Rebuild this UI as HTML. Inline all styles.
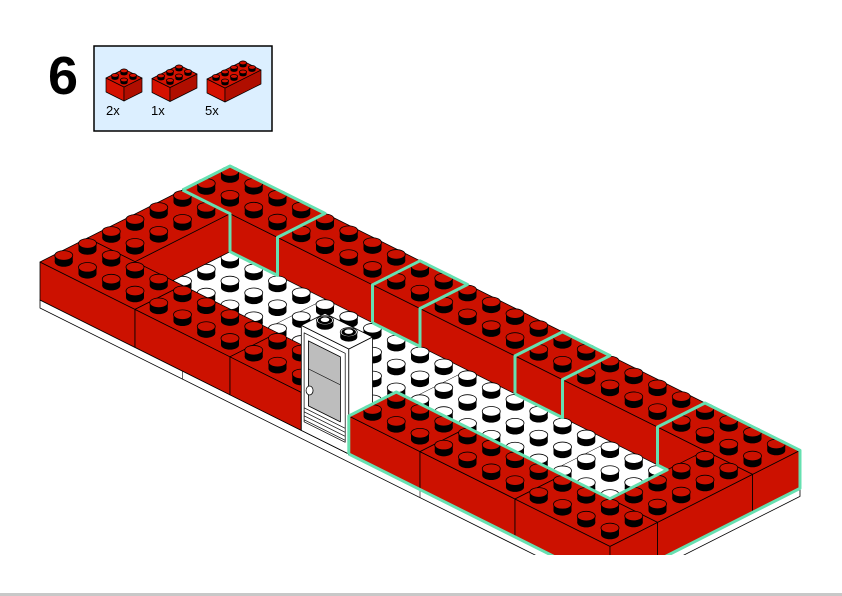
<!DOCTYPE html>
<html><head><meta charset="utf-8">
<style>
html,body{margin:0;padding:0;background:#fff;}
body{width:842px;height:596px;overflow:hidden;position:relative;}
svg{position:absolute;left:0;top:0;}
</style></head>
<body>
<svg id="s" width="842" height="596" viewBox="0 0 842 596" xmlns="http://www.w3.org/2000/svg">
<defs><clipPath id="cl"><rect x="0" y="0" width="842" height="555"/></clipPath></defs>
<rect x="0" y="593" width="842" height="3" fill="#c8c8c8"/>
<text x="48" y="94" font-family="Liberation Sans, sans-serif" font-weight="bold" font-size="54">6</text>
<rect x="94" y="46" width="178" height="85" fill="#dcefff" stroke="#000" stroke-width="1.5"/>
<g font-family="Liberation Sans, sans-serif" font-size="13" fill="#000">
<text x="106" y="115">2x</text><text x="151" y="115">1x</text><text x="205" y="115">5x</text>
</g>
<g id="icons"></g>
<g id="scene" clip-path="url(#cl)"></g>
</svg>
<script>
var NS="http://www.w3.org/2000/svg";
var RED="#cc1100",BK="#000";
function P(i,j,h){return [230+23.75*(i-j),166+11.85*i+12*j+(h||0)];}
function poly(g,pts,fill,stroke,sw){var e=document.createElementNS(NS,"polygon");e.setAttribute("points",pts.map(function(p){return p[0].toFixed(1)+","+p[1].toFixed(1)}).join(" "));e.setAttribute("fill",fill);e.setAttribute("stroke",stroke||"none");e.setAttribute("stroke-width",sw||0.8);e.setAttribute("stroke-linejoin","round");g.appendChild(e);return e;}
function pl(g,pts,stroke,sw){var e=document.createElementNS(NS,"polyline");e.setAttribute("points",pts.map(function(p){return p[0].toFixed(1)+","+p[1].toFixed(1)}).join(" "));e.setAttribute("fill","none");e.setAttribute("stroke",stroke);e.setAttribute("stroke-width",sw);e.setAttribute("stroke-linejoin","round");g.appendChild(e);}
function el(g,cx,cy,rx,ry,fill,stroke,sw){var e=document.createElementNS(NS,"ellipse");e.setAttribute("cx",cx);e.setAttribute("cy",cy);e.setAttribute("rx",rx);e.setAttribute("ry",ry);e.setAttribute("fill",fill);if(stroke){e.setAttribute("stroke",stroke);e.setAttribute("stroke-width",sw||0.8);}g.appendChild(e);}
function rect(g,x,y,w,h,fill){var e=document.createElementNS(NS,"rect");e.setAttribute("x",x);e.setAttribute("y",y);e.setAttribute("width",w);e.setAttribute("height",h);e.setAttribute("fill",fill);g.appendChild(e);}
function stud(g,c,col,rx,ry,hh,hollow){
  el(g,c[0],c[1],rx,ry,BK);rect(g,c[0]-rx,c[1]-hh,2*rx,hh,BK);
  el(g,c[0],c[1]-hh,rx,ry,col,BK,0.8);
  if(hollow){el(g,c[0],c[1]-hh,rx*0.85,ry*0.85,BK);el(g,c[0],c[1]-hh-0.5,rx*0.5,ry*0.5,"#fff");}
}
var sc=document.getElementById("scene");
function box(i0,i1,j0,j1,ht,hb,col,studs){
  poly(sc,[P(i0,j1,ht),P(i1,j1,ht),P(i1,j1,hb),P(i0,j1,hb)],col,BK,0.8);
  poly(sc,[P(i1,j0,ht),P(i1,j1,ht),P(i1,j1,hb),P(i1,j0,hb)],col,BK,0.8);
  poly(sc,[P(i0,j0,ht),P(i1,j0,ht),P(i1,j1,ht),P(i0,j1,ht)],col,BK,0.8);
  if(studs){for(var s=0;s<(i1-i0)+(j1-j0);s++)for(var a=i0;a<i1;a++)for(var b=j0;b<j1;b++){if((a-i0)+(b-j0)==s)stud(sc,P(a+.5,b+.5,ht),col,9,4.8,6.5);}}
}
var H=38;
poly(sc,[P(0,8,H),P(24,8,H),P(24,8,H+8),P(0,8,H+8)],"#fff",BK,0.8);
poly(sc,[P(24,0,H),P(24,8,H),P(24,8,H+8),P(24,0,H+8)],"#fff",BK,0.8);
[6,16].forEach(function(i){pl(sc,[P(i,8,H),P(i,8,H+8)],BK,0.6);});
[[0,4],[4,8],[8,10],[10,14],[14,16],[16,20],[20,24]].forEach(function(b){box(b[0],b[1],0,2,0,H,RED,true);});
poly(sc,[P(2,2,H),P(22,2,H),P(22,8,H),P(2,8,H)],"#fff",BK,0.6);
pl(sc,[P(6,2,H),P(6,6,H)],BK,0.5);pl(sc,[P(12,2,H),P(12,7,H)],BK,0.5);pl(sc,[P(18,2,H),P(18,6,H)],BK,0.5);
var fs=[];for(var a=2;a<22;a++)for(var b=2;b<7;b++){if(b==6&&(a<11||a>12))continue;fs.push([a,b]);}
fs.sort(function(x,y){return (x[0]+x[1])-(y[0]+y[1]);});
fs.forEach(function(c){stud(sc,P(c[0]+.5,c[1]+.5,H),"#fff",9,4.8,6.5);});
box(0,2,2,6,0,H,RED,true);
[[0,4],[4,8],[8,11]].forEach(function(b){box(b[0],b[1],6,8,0,H,RED,true);});
(function(){
 var T=-67;
 poly(sc,[P(11,8,T),P(13,8,T),P(13,8,H),P(11,8,H)],"#fff",BK,0.8);
 poly(sc,[P(13,7,T),P(13,8,T),P(13,8,H),P(13,7,H)],"#fff",BK,0.8);
 poly(sc,[P(11,7,T),P(13,7,T),P(13,8,T),P(11,8,T)],"#fff",BK,0.8);
 poly(sc,[P(11.12,8,T+6),P(12.85,8,T+6),P(12.85,8,H-10),P(11.12,8,H-10)],"#fff",BK,0.7);
 poly(sc,[P(11.3,8,T+12),P(12.65,8,T+12),P(12.65,8,H-28),P(11.3,8,H-28)],"#bdbdbd",BK,0.8);
 pl(sc,[P(11.3,8,T+40),P(12.65,8,T+40)],BK,0.6);
 for(var k=0;k<4;k++)pl(sc,[P(11.12,8,H-24+k*4),P(12.85,8,H-24+k*4)],BK,0.6);
 var kn=P(11.35,8,H-44);el(sc,kn[0],kn[1],3.5,4.5,"#fff",BK,0.8);
 stud(sc,P(11.5,7.5,T),"#fff",8.5,4.5,5,true);stud(sc,P(12.5,7.5,T),"#fff",8.5,4.5,5,true);
})();
box(22,24,2,6,0,H,RED,true);
[[13,16],[16,20],[20,24]].forEach(function(b){box(b[0],b[1],6,8,0,H,RED,true);});
var G="#66e0b0",GW=3;
[[0,4],[8,10],[14,16]].forEach(function(b){var a=b[0],c=b[1];var st=(a==0)?[P(0,2,0),P(0,0,0),P(4,0,0),P(4,2,0),P(4,2,H),P(2,2,H),P(2,2,0),P(0,2,0)]:[P(a,2,H),P(a,2,0),P(a,0,0),P(c,0,0),P(c,2,0),P(c,2,H),P(a,2,H)];pl(sc,st,G,GW);});
var x6=P(22,6,0),x2=P(22,2,0),f1=P(20,2,H),f2=P(22,2,H);
function inter(a,b,c,d){var t=((c[0]-a[0])*(d[1]-c[1])-(c[1]-a[1])*(d[0]-c[0]))/((b[0]-a[0])*(d[1]-c[1])-(b[1]-a[1])*(d[0]-c[0]));return [a[0]+t*(b[0]-a[0]),a[1]+t*(b[1]-a[1])];}
var X=inter(x6,x2,f1,f2);
pl(sc,[P(13,8,H),P(13,8,0),P(13,6,0),P(22,6,0),X,P(20,2,H),P(20,2,0),P(20,0,0),P(24,0,0),P(24,0,H),P(24,8,H),P(13,8,H)],G,GW);
var ic=document.getElementById("icons");
function mini(tx,ty,ni,nj){var s=9,h=14;function Q(i,j,hh){return [tx+s*(i-j),ty+s*0.5*(i+j)+(hh||0)];}
 poly(ic,[Q(0,nj),Q(ni,nj),Q(ni,nj,h),Q(0,nj,h)],"#d41100",BK,0.7);
 poly(ic,[Q(ni,0),Q(ni,nj),Q(ni,nj,h),Q(ni,0,h)],"#b00e00",BK,0.7);
 poly(ic,[Q(0,0),Q(ni,0),Q(ni,nj),Q(0,nj)],"#d41100",BK,0.7);
 for(var a=0;a<ni;a++)for(var b=0;b<nj;b++){var c=Q(a+.5,b+.5);stud(ic,c,"#d41100",3.6,1.9,2.6);}
}
mini(124,69,2,2);mini(179,65,2,3);mini(243,61,2,4);
</script>
</body></html>
